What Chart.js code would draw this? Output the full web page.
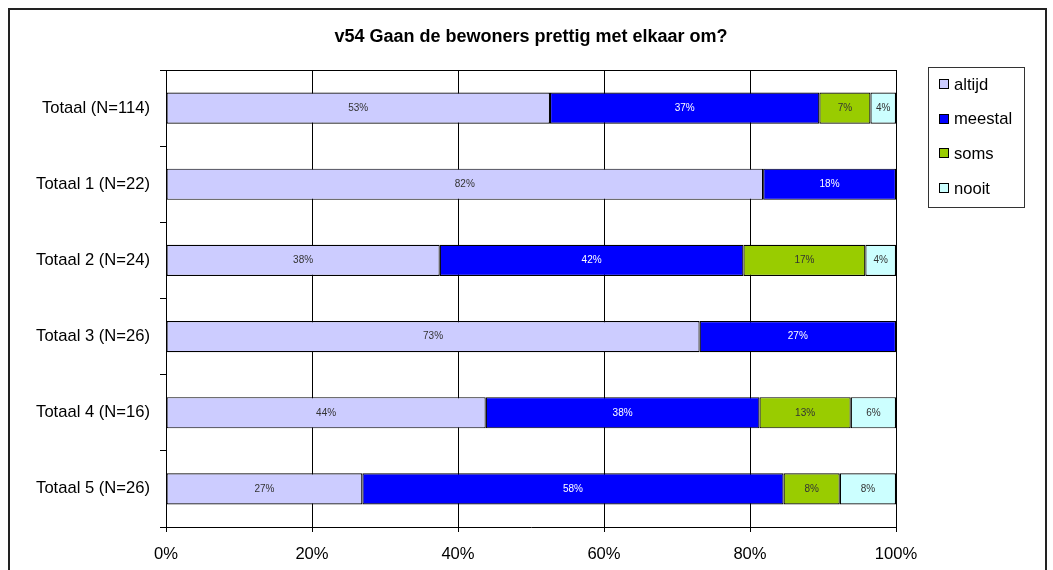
<!DOCTYPE html>
<html>
<head>
<meta charset="utf-8">
<script src="https://cdn.jsdelivr.net/npm/chart.js@4"></script>
<style>
  html, body { margin: 0; padding: 0; background: #fff; }
  #wrap { width: 1053px; height: 570px; }
</style>
</head>
<body>
<div id="wrap"><canvas id="chart" width="1053" height="570"></canvas></div>
<script>
// data
var titel = "v54 Gaan de bewoners prettig met elkaar om?";
var categorieen = ["Totaal (N=114)", "Totaal 1 (N=22)", "Totaal 2 (N=24)", "Totaal 3 (N=26)", "Totaal 4 (N=16)", "Totaal 5 (N=26)"];
var altijd  = [52.6, 81.8, 37.5, 73.1, 43.8, 26.9];
var meestal = [36.9, 18.2, 41.6, 26.9, 37.5, 57.7];
var soms    = [7.0, 0, 16.7, 0, 12.5, 7.7];
var nooit   = [3.5, 0, 4.2, 0, 6.2, 7.7];
var xTicks  = [0, 20, 40, 60, 80, 100];

var fontFam = "'Liberation Sans', Arial, sans-serif";

// buitenste kader + titel + rand van de plot
var kaderPlugin = {
  id: "kader",
  beforeDraw: function(chart) {
    var ctx = chart.ctx;
    ctx.save();
    ctx.fillStyle = "#fff";
    ctx.fillRect(0, 0, chart.width, chart.height);
    ctx.strokeStyle = "#222";
    ctx.lineWidth = 2;
    ctx.strokeRect(9, 9, 1037, 600);
    ctx.restore();
  },
  afterDraw: function(chart) {
    var ctx = chart.ctx;
    var a = chart.chartArea;
    ctx.save();
    ctx.strokeStyle = "#000";
    ctx.lineWidth = 1;
    ctx.beginPath();
    ctx.moveTo(a.left, Math.round(a.top) + 0.5);
    ctx.lineTo(a.right, Math.round(a.top) + 0.5);
    ctx.stroke();
    ctx.fillStyle = "#000";
    ctx.font = "bold 18px " + fontFam;
    ctx.textAlign = "center";
    ctx.textBaseline = "alphabetic";
    ctx.fillText(titel, (a.left + a.right) / 2, 42);
    ctx.restore();
  }
};

// percentages in de balken
var labelPlugin = {
  id: "labels",
  afterDatasetsDraw: function(chart) {
    var ctx = chart.ctx;
    ctx.save();
    ctx.font = "10px " + fontFam;
    ctx.textAlign = "center";
    ctx.textBaseline = "middle";
    chart.data.datasets.forEach(function(ds, i) {
      var meta = chart.getDatasetMeta(i);
      meta.data.forEach(function(bar, j) {
        var v = ds.data[j];
        if (!v) return;
        var p = bar.getCenterPoint();
        ctx.fillStyle = ds.labelColor;
        ctx.fillText(Math.round(v) + "%", p.x, p.y);
      });
    });
    ctx.restore();
  }
};

// legenda rechts met kader
var legendaPlugin = {
  id: "legenda",
  afterDraw: function(chart) {
    var ctx = chart.ctx;
    ctx.save();
    ctx.strokeStyle = "#333";
    ctx.lineWidth = 1;
    ctx.strokeRect(928.5, 67.5, 96, 140);
    ctx.font = "16.6px " + fontFam;
    ctx.textAlign = "left";
    ctx.textBaseline = "middle";
    chart.data.datasets.forEach(function(ds, i) {
      var y = 84 + i * 34.7;
      ctx.fillStyle = ds.backgroundColor;
      ctx.fillRect(940, Math.round(y - 4), 8, 8);
      ctx.strokeStyle = "#000";
      ctx.strokeRect(939.5, Math.round(y - 4) - 0.5, 9, 9);
      ctx.fillStyle = "#000";
      ctx.fillText(ds.label, 954, y + 1);
    });
    ctx.restore();
  }
};

function maakSet(label, data, kleur, tekstKleur) {
  return {
    label: label,
    data: data,
    backgroundColor: kleur,
    borderColor: "#000",
    borderWidth: 1.2,
    borderSkipped: false,
    labelColor: tekstKleur,
    categoryPercentage: 1,
    barPercentage: 0.41
  };
}

new Chart(document.getElementById("chart"), {
  type: "bar",
  data: {
    labels: categorieen,
    datasets: [
      maakSet("altijd", altijd, "#CCCCFF", "#333"),
      maakSet("meestal", meestal, "#0000FF", "#fff"),
      maakSet("soms", soms, "#99CC00", "#333"),
      maakSet("nooit", nooit, "#CCFFFF", "#333")
    ]
  },
  options: {
    indexAxis: "y",
    responsive: false,
    animation: false,
    layout: { padding: { top: 70, right: 157, bottom: 0, left: 0 } },
    plugins: {
      legend: { display: false },
      title: { display: false },
      tooltip: { enabled: false }
    },
    scales: {
      x: {
        stacked: true,
        min: 0,
        max: 100,
        afterBuildTicks: function(s) { s.ticks = xTicks.map(function(v) { return { value: v }; }); },
        afterFit: function(s) { s.height = 43; },
        grid: { color: "#000", lineWidth: 1, tickLength: 5 },
        border: { display: true, color: "#000" },
        ticks: {
          color: "#000",
          padding: 12,
          maxRotation: 0,
          font: { family: fontFam, size: 16.6 },
          callback: function(v) { return v + "%"; }
        }
      },
      y: {
        stacked: true,
        afterFit: function(s) { s.width = 166; },
        grid: { color: "#000", drawOnChartArea: false, tickLength: 6, offset: true },
        border: { display: true, color: "#000" },
        ticks: {
          color: "#000",
          padding: 10,
          font: { family: fontFam, size: 16.6 }
        }
      }
    }
  },
  plugins: [kaderPlugin, labelPlugin, legendaPlugin]
});
</script>
</body>
</html>
